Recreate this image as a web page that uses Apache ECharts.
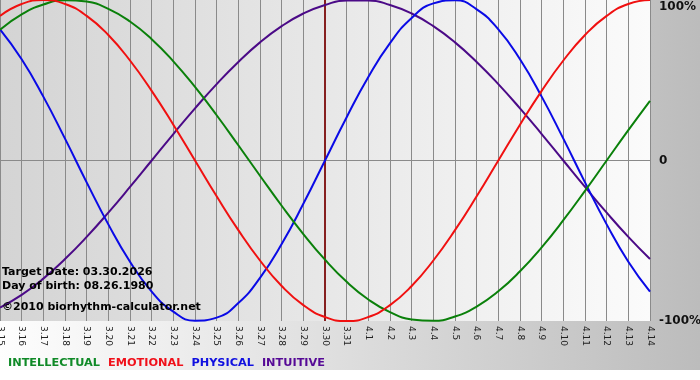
<!DOCTYPE html>
<html>
<head>
<meta charset="utf-8">
<script src="https://cdn.jsdelivr.net/npm/echarts@6/dist/echarts.min.js"></script>
<style>
html,body{margin:0;padding:0;background:#fff;}
#chart{width:700px;height:380px;}
</style>
</head>
<body>
<div id="chart"></div>
<script>
const categories = ['3.15','3.16','3.17','3.18','3.19','3.20','3.21','3.22','3.23','3.24','3.25','3.26','3.27','3.28','3.29','3.30','3.31','4.1','4.2','4.3','4.4','4.5','4.6','4.7','4.8','4.9','4.10','4.11','4.12','4.13','4.14'];
const intellectual = [81.5, 91.0, 97.2, 99.9, 99.0, 94.5, 86.6, 75.6, 61.8, 45.8, 28.2, 9.5, -9.5, -28.2, -45.8, -61.8, -75.6, -86.6, -94.5, -99.0, -99.9, -97.2, -91.0, -81.5, -69.0, -54.1, -37.2, -18.9, 0, 18.9, 37.2];
const emotional = [90.1, 97.5, 100, 97.5, 90.1, 78.2, 62.3, 43.4, 22.3, 0, -22.3, -43.4, -62.3, -78.2, -90.1, -97.5, -100, -97.5, -90.1, -78.2, -62.3, -43.4, -22.3, 0, 22.3, 43.4, 62.3, 78.2, 90.1, 97.5, 100];
const physical = [81.7, 63.1, 39.8, 13.6, -13.6, -39.8, -63.1, -81.7, -94.2, -99.8, -97.9, -88.8, -73.1, -52.0, -27.0, 0, 27.0, 52.0, 73.1, 88.8, 97.9, 99.8, 94.2, 81.7, 63.1, 39.8, 13.6, -13.6, -39.8, -63.1, -81.7];
const intuitive = [-91.6, -83.7, -73.6, -61.4, -47.6, -32.5, -16.5, 0, 16.5, 32.5, 47.6, 61.4, 73.6, 83.7, 91.6, 96.9, 99.7, 99.7, 96.9, 91.6, 83.7, 73.6, 61.4, 47.6, 32.5, 16.5, 0, -16.5, -32.5, -47.6, -61.4];
const yTickValues = [-100, 0, 100];
const yTickLabels = ['-100%', '0', '100%'];
const targetDate = '3.30';
const infoLines = ['Target Date: 03.30.2026', 'Day of birth: 08.26.1980', '\u00a92010 biorhythm-calculator.net'];
const seriesNames = ['INTELLECTUAL', 'EMOTIONAL', 'PHYSICAL', 'INTUITIVE'];

const FONT = 'DejaVu Sans';
const colors = {INTELLECTUAL:'#0a800a', EMOTIONAL:'#f01010', PHYSICAL:'#0a0ae6', INTUITIVE:'#4b0a87'};
const legendColors = {INTELLECTUAL:'#108a28', EMOTIONAL:'#f0101a', PHYSICAL:'#1010e0', INTUITIVE:'#560a96'};
const dataMap = {INTELLECTUAL: intellectual, EMOTIONAL: emotional, PHYSICAL: physical, INTUITIVE: intuitive};
const drawOrder = ['INTUITIVE', 'PHYSICAL', 'INTELLECTUAL', 'EMOTIONAL'];

const chart = echarts.init(document.getElementById('chart'), null, {renderer: 'canvas'});

const series = drawOrder.map((name, k) => {
  const s = {
    name: name,
    type: 'line',
    data: dataMap[name],
    smooth: true,
    showSymbol: false,
    symbol: 'none',
    lineStyle: {color: colors[name], width: 2},
    itemStyle: {color: colors[name]},
    z: 3 + k
  };
  if (k === 0) {
    s.markLine = {
      silent: true,
      symbol: 'none',
      label: {show: false},
      lineStyle: {color: '#862020', width: 2, type: 'solid'},
      data: [{xAxis: targetDate}],
      z: 2
    };
  }
  return s;
});

const option = {
  animation: false,
  backgroundColor: {
    type: 'linear', x: 0, y: 0, x2: 1, y2: 0,
    colorStops: [{offset: 0, color: '#fefefe'}, {offset: 1, color: '#bcbcbc'}]
  },
  grid: {
    left: 0, top: 0, right: 50, bottom: 59,
    containLabel: false,
    outerBoundsMode: 'none',
    show: true, borderWidth: 0,
    backgroundColor: {
      type: 'linear', x: 0, y: 0, x2: 1, y2: 0,
      colorStops: [{offset: 0, color: '#d4d4d4'}, {offset: 1, color: '#fbfbfb'}]
    }
  },
  legend: {
    left: -2, top: 351,
    icon: 'none', itemWidth: 0, itemHeight: 14, itemGap: 3,
    selectedMode: false,
    data: seriesNames.map(n => ({name: n, textStyle: {color: legendColors[n]}})),
    textStyle: {fontFamily: FONT, fontWeight: 'bold', fontSize: 11.3}
  },
  xAxis: {
    type: 'category',
    data: categories,
    boundaryGap: false,
    axisLine: {show: true, lineStyle: {color: '#8a8a8a', width: 1}},
    axisTick: {show: true, interval: 0, length: 4, lineStyle: {color: '#8a8a8a'}},
    splitLine: {show: true, interval: 0, lineStyle: {color: '#8a8a8a', width: 1}},
    axisLabel: {
      interval: 0, rotate: -90, margin: 5,
      fontFamily: FONT, fontSize: 9, color: '#222',
      showMinLabel: true, showMaxLabel: true
    }
  },
  yAxis: {
    type: 'value',
    position: 'right',
    min: -100, max: 100, interval: 100,
    axisLine: {show: false},
    axisTick: {show: false},
    splitLine: {show: true, lineStyle: {color: ['rgba(0,0,0,0)', '#8a8a8a', 'rgba(0,0,0,0)'], width: 1}},
    axisLabel: {
      margin: 9,
      fontFamily: FONT, fontWeight: 'bold', fontSize: 12, color: '#111',
      formatter: function (v) {
        const idx = yTickValues.indexOf(v);
        const t = idx >= 0 ? yTickLabels[idx] : '';
        return v === 100 ? '{top|' + t + '}' : t;
      },
      rich: {
        top: {padding: [14, 0, 0, 0], fontFamily: FONT, fontWeight: 'bold', fontSize: 12, color: '#111'}
      }
    }
  },
  graphic: [
    {type: 'rect', left: 0, top: 370, shape: {width: 700, height: 10}, style: {fill: '#ffffff'}, silent: true, z: -1},
    {type: 'text', left: 2, top: 267, style: {text: infoLines[0], fontFamily: FONT, fontWeight: 'bold', fontSize: 11, fill: '#000'}, z: 100},
    {type: 'text', left: 2, top: 281, style: {text: infoLines[1], fontFamily: FONT, fontWeight: 'bold', fontSize: 11, fill: '#000'}, z: 100},
    {type: 'text', left: 2, top: 302, style: {text: infoLines[2], fontFamily: FONT, fontWeight: 'bold', fontSize: 11, fill: '#000'}, z: 100}
  ],
  series: series
};
chart.setOption(option);
</script>
</body>
</html>
